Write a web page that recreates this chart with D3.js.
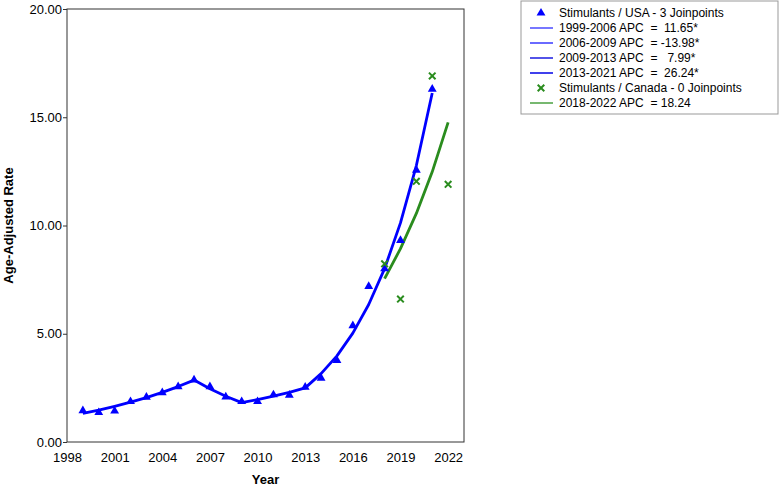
<!DOCTYPE html>
<html>
<head>
<meta charset="utf-8">
<script src="https://cdn.jsdelivr.net/npm/d3@7"></script>
<style>
  body { margin: 0; background: #fff; }
  text { font-family: Arial, "Liberation Sans", sans-serif; }
</style>
</head>
<body>
<script>
// observed rates
var usaYears = [1999, 2000, 2001, 2002, 2003, 2004, 2005, 2006, 2007, 2008, 2009, 2010,
  2011, 2012, 2013, 2014, 2015, 2016, 2017, 2018, 2019, 2020, 2021];
var usaRates = [1.45, 1.36, 1.43, 1.87, 2.07, 2.28, 2.56, 2.87, 2.56, 2.08, 1.87, 1.87,
  2.18, 2.16, 2.53, 2.95, 3.77, 5.37, 7.19, 8.0, 9.31, 12.56, 16.3];
// joinpoint fitted values
var usaFit = [1.32, 1.47, 1.65, 1.84, 2.05, 2.29, 2.56, 2.86, 2.46, 2.11, 1.82, 1.96,
  2.12, 2.29, 2.5, 3.16, 3.98, 5.03, 6.35, 8.01, 10.12, 12.77, 16.12];

var canYears = [2018, 2019, 2020, 2021, 2022];
var canRates = [8.23, 6.6, 12.04, 16.91, 11.9];
var canFit = [7.55, 8.93, 10.56, 12.48, 14.76];

var xTicks = [1998, 2001, 2004, 2007, 2010, 2013, 2016, 2019, 2022];
var yTicks = [0, 5, 10, 15, 20];

var legendLabels = [
  "Stimulants / USA - 3 Joinpoints",
  "1999-2006 APC  =  11.65*",
  "2006-2009 APC  = -13.98*",
  "2009-2013 APC  =   7.99*",
  "2013-2021 APC  =  26.24*",
  "Stimulants / Canada - 0 Joinpoints",
  "2018-2022 APC  = 18.24"
];

var blue = "#0000ff", green = "#2a8c1e";
var margin = { top: 9, right: 316, bottom: 44, left: 67 },
  width = 780 - margin.left - margin.right,
  height = 486 - margin.top - margin.bottom;

var svg = d3.select("body").append("svg")
  .attr("width", 780)
  .attr("height", 486);

var g = svg.append("g")
  .attr("transform", "translate(" + margin.left + "," + margin.top + ")");

var x = d3.scaleLinear().domain([1998, 2023]).range([0, width]);
var y = d3.scaleLinear().domain([0, 20]).range([height, 0]);

g.append("rect")
  .attr("width", width)
  .attr("height", height)
  .attr("fill", "none")
  .attr("stroke", "#333")
  .attr("stroke-width", 1);

var xAxis = g.append("g")
  .attr("transform", "translate(0," + height + ")")
  .call(d3.axisBottom(x).tickValues(xTicks).tickFormat(d3.format("d")).tickSize(0).tickPadding(11));
xAxis.select(".domain").remove();
xAxis.selectAll("text").attr("font-size", 13).attr("fill", "#000");

var yAxis = g.append("g")
  .call(d3.axisLeft(y).tickValues(yTicks).tickFormat(d3.format(".2f")).tickSize(4).tickPadding(1));
yAxis.select(".domain").remove();
yAxis.selectAll("line").attr("stroke", "#333");
yAxis.selectAll("text").attr("font-size", 13).attr("fill", "#000");

svg.append("text")
  .attr("x", margin.left + width / 2)
  .attr("y", 484)
  .attr("text-anchor", "middle")
  .attr("font-size", 13)
  .attr("font-weight", "bold")
  .text("Year");

svg.append("text")
  .attr("transform", "translate(13," + (margin.top + height / 2) + ") rotate(-90)")
  .attr("text-anchor", "middle")
  .attr("font-size", 13)
  .attr("font-weight", "bold")
  .text("Age-Adjusted Rate");

var line = d3.line()
  .x(function (d) { return x(d[0]); })
  .y(function (d) { return y(d[1]); });

g.append("path")
  .datum(d3.zip(usaYears, usaFit))
  .attr("d", line)
  .attr("fill", "none")
  .attr("stroke", blue)
  .attr("stroke-width", 2.8)
  .attr("stroke-linejoin", "round");

g.append("path")
  .datum(d3.zip(canYears, canFit))
  .attr("d", line)
  .attr("fill", "none")
  .attr("stroke", green)
  .attr("stroke-width", 2.8)
  .attr("stroke-linejoin", "round");

var tri = d3.symbol().type(d3.symbolTriangle).size(34);
var cross = d3.symbol().type(d3.symbolX).size(30);

g.selectAll(".usa")
  .data(d3.zip(usaYears, usaRates))
  .enter().append("path")
  .attr("class", "usa")
  .attr("transform", function (d) { return "translate(" + x(d[0]) + "," + y(d[1]) + ")"; })
  .attr("d", tri)
  .attr("fill", blue);

g.selectAll(".can")
  .data(d3.zip(canYears, canRates))
  .enter().append("path")
  .attr("class", "can")
  .attr("transform", function (d) { return "translate(" + x(d[0]) + "," + y(d[1]) + ")"; })
  .attr("d", cross)
  .attr("fill", "none")
  .attr("stroke", green)
  .attr("stroke-width", 2);

// legend
var legend = svg.append("g").attr("transform", "translate(521,1)");
legend.append("rect")
  .attr("width", 257)
  .attr("height", 113)
  .attr("fill", "#fff")
  .attr("stroke", "#999");

var legendKinds = ["tri", "line", "line", "line", "line", "cross", "line"];
var legendColors = [blue, "#4a4aff", "#3838ff", "#1a1ae0", "#0000e6", green, "#4aa040"];

var rows = legend.selectAll(".row")
  .data(legendLabels)
  .enter().append("g")
  .attr("transform", function (d, i) { return "translate(0," + (12 + i * 15) + ")"; });

rows.each(function (d, i) {
  var r = d3.select(this);
  if (legendKinds[i] === "line") {
    r.append("line").attr("x1", 9).attr("x2", 32).attr("y1", 0).attr("y2", 0)
      .attr("stroke", legendColors[i]).attr("stroke-width", 1.5);
  } else if (legendKinds[i] === "tri") {
    r.append("path").attr("transform", "translate(20,0)").attr("d", tri).attr("fill", legendColors[i]);
  } else {
    r.append("path").attr("transform", "translate(20,0)").attr("d", cross)
      .attr("fill", "none").attr("stroke", legendColors[i]).attr("stroke-width", 2);
  }
  r.append("text").attr("x", 38).attr("dy", "0.35em").attr("font-size", 12)
    .attr("fill", "#000").style("white-space", "pre").text(d);
});
</script>
</body>
</html>
